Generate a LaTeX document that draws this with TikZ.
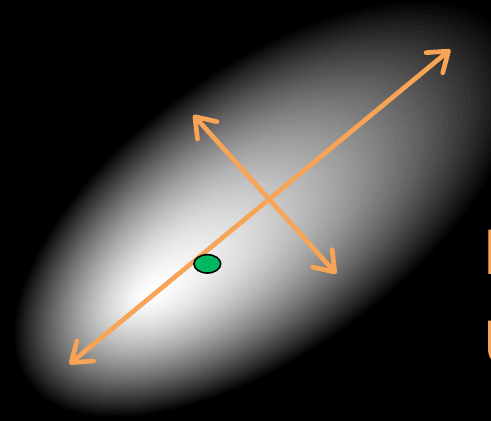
\documentclass[tikz,border=0pt]{standalone}
\usepackage{fontspec}
\setsansfont{Liberation Sans}
\usetikzlibrary{arrows.meta, shapes.geometric}
\definecolor{axis_orange}{RGB}{247,164,86}
\definecolor{mean_green}{RGB}{0,184,98}

\begin{document}
\begin{tikzpicture}[
    x=0.02cm, y=-0.02cm,
    barb/.tip={Straight Barb[length=10.5pt, width=15pt, round]},
    arrow/.style={barb-barb, line width=2.7pt, draw=axis_orange, line cap=round},
    dot/.style={ellipse, draw=black, line width=0.9pt, fill=mean_green,
        minimum width=0.54cm, minimum height=0.37cm, inner sep=0pt},
    edge_text/.style={text=axis_orange, font=\sffamily\fontsize{37}{44}\selectfont,
        inner sep=0pt, anchor=base west}
]

\fill[black] (-2,-2) rectangle (493,422);
\useasboundingbox (0,0) rectangle (491,420);
\clip (-2,-2) rectangle (493,422);

%% --- Gaussian glow (focus towards lower left) ---
\begin{scope}[shift={(268,208)}, rotate=36]
\foreach \i in {0,...,79} {
    \pgfmathsetmacro{\lev}{1-\i/80}
    \pgfmathsetmacro{\ctr}{-150*(1-\lev)}
    \pgfmathsetmacro{\semiA}{300*\lev}
    \pgfmathsetmacro{\semiB}{145*\lev}
    \pgfmathsetmacro{\wht}{100*(1-\lev^1.5)}
    \fill[white!\wht!black] (\ctr,0) ellipse ({\semiA} and {\semiB});
}
\end{scope}

%% --- Axes ---
\coordinate (major_lo) at (68,365);
\coordinate (major_hi) at (452,48);
\coordinate (minor_hi) at (193,114);
\coordinate (minor_lo) at (337,274);
\draw[arrow] (major_lo) -- (major_hi);
\draw[arrow] (minor_hi) -- (minor_lo);

\node[dot] (mean) at (207,264) {};

%% --- Cut-off labels ---
\node[edge_text] (label_top) at (485,275) {P};
\node[edge_text] (label_bot) at (485,366) {U};

\end{tikzpicture}
\end{document}
